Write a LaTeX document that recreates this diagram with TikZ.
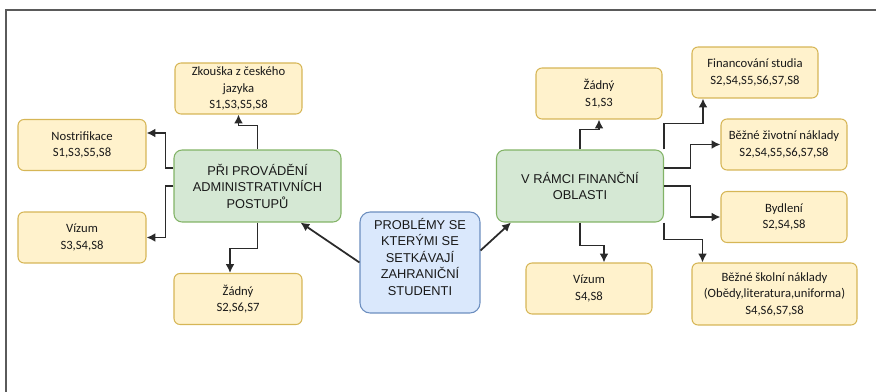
\documentclass[tikz,border=0pt]{standalone}
\usepackage{fontspec}
\setmainfont{Carlito}
\newfontfamily\arialfont{Liberation Sans}
\usepackage{tikz}
\usetikzlibrary{calc, arrows.meta}
\definecolor{myyellow}{HTML}{FFF2CC}
\definecolor{yellowline}{HTML}{D6B656}
\definecolor{mygreen}{HTML}{D5E8D4}
\definecolor{greenline}{HTML}{82B366}
\definecolor{myblue}{HTML}{DAE8FC}
\definecolor{blueline}{HTML}{6C8EBF}
\definecolor{arrowgray}{HTML}{2A2A2A}
\definecolor{framegray}{HTML}{5A5A5A}

\begin{document}
\begin{tikzpicture}[x=0.02cm,y=-0.02cm]
	\tikzset{item/.style={draw=yellowline,fill=myyellow,rounded corners=0.12cm,line width=0.6pt,align=center,text=black!90,inner sep=1pt,font=\fontsize{7.2}{9.4}\selectfont,minimum width=2.54cm,minimum height=1.02cm}}
	\tikzset{topic/.style={draw=greenline,fill=mygreen,rounded corners=0.16cm,line width=0.6pt,align=center,text=black!90,inner sep=1pt,font=\arialfont\fontsize{7.3}{9.4}\selectfont,minimum width=3.34cm,minimum height=1.44cm}}
	\tikzset{edge/.style={-{Latex[length=5pt,width=5pt]}, line width=1pt, arrowgray}}
	
	\useasboundingbox (0,0) rectangle (876,392);
	\draw[framegray, line width=1.2pt] (876,10) -- (6,10) -- (6,392);
	
	\node(prob) at (420,262.5) [topic,draw=blueline,fill=myblue,rounded corners=0.2cm,minimum width=2.4cm,minimum height=2.02cm] {PROBLÉMY SE\\KTERÝMI SE\\SETKÁVAJÍ\\ZAHRANIČNÍ\\STUDENTI\\[-3pt]\mbox{}};
	
	\node(pri) at (257.5,186) [topic] {PŘI PROVÁDĚNÍ\\ADMINISTRATIVNÍCH\\POSTUPŮ};
	\node(fin) at (580,186) [topic] {V RÁMCI FINANČNÍ\\OBLASTI};
	
	\node(zk) at (238.5,88.5) [item] {Zkouška z českého\\jazyka\\S1,S3,S5,S8};
	\node(nos) at (82,145) [item,minimum width=2.56cm] {Nostrifikace\\S1,S3,S5,S8};
	\node(viz1) at (82,237.5) [item,minimum width=2.56cm] {Vízum\\S3,S4,S8};
	\node(zad1) at (238,299) [item,minimum width=2.56cm] {Žádný\\S2,S6,S7};
	
	\node(zad2) at (599,93.5) [item,minimum width=2.52cm] {Žádný\\S1,S3};
	\node(fst) at (755,72.5) [item,minimum width=2.52cm] {Financování studia\\S2,S4,S5,S6,S7,S8};
	\node(ziv) at (784,144.5) [item,minimum width=2.52cm] {Běžné životní náklady\\S2,S4,S5,S6,S7,S8};
	\node(byd) at (784,217) [item,minimum width=2.52cm] {Bydlení\\S2,S4,S8};
	\node(skol) at (774.5,294) [item,minimum width=3.3cm,minimum height=1.24cm] {Běžné školní náklady\\(Obědy,literatura,uniforma)\\S4,S6,S7,S8};
	\node(viz2) at (589,288.5) [item,minimum width=2.52cm] {Vízum\\S4,S8};
	
	\draw[edge] (prob.west) -- ($(pri.south east)+(-41,0)$);
	\draw[edge] ($(prob.east)+(0,-12)$) -- ($(fin.south west)+(15,0)$);
	
	\draw[edge] (pri.north) -- ++(0,-24) -| (zk.south);
	\draw[edge] ($(pri.west)+(0,-18)$) -| ($(nos.east)+(19,-12)$) -- ($(nos.east)+(0,-12)$);
	\draw[edge] (pri.west) -| ($(viz1.east)+(19,0)$) -- (viz1.east);
	\draw[edge] (pri.south) -- ++(0,26) -| ($(zad1.north)+(-8,0)$);
	
	\draw[edge] (fin.north) -- ++(0,-20) -| (zad2.south);
	\draw[edge] (fin.north east) -- ++(0,-26) -| ($(fst.south)+(-52,0)$);
	\draw[edge] ($(fin.east)+(0,-18)$) -| ($(ziv.west)+(-30,0)$) -- (ziv.west);
	\draw[edge] (fin.east) -| ($(byd.west)+(-30,0)$) -- (byd.west);
	\draw[edge] (fin.south east) -- ++(0,17) -| ($(skol.north)+(-72,0)$);
	\draw[edge] (fin.south) -- ++(0,23) -| ($(viz2.north)+(15,0)$);
	
\end{tikzpicture}
\end{document}
